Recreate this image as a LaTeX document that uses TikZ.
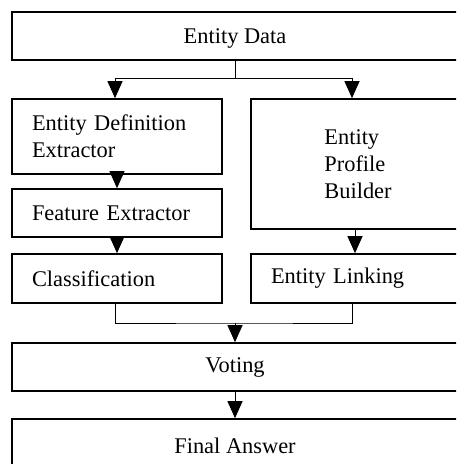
\documentclass[tikz,border=0pt]{standalone}
\usepackage{fontspec}
\setmainfont{Liberation Serif}
\usetikzlibrary{arrows.meta}

\begin{document}
\begin{tikzpicture}[x=0.5pt, y=-0.5pt,
        box/.style={draw, line width=0.8pt, rectangle, inner sep=0pt, font=\fontsize{11.2}{13.6}\selectfont},
        wide/.style={box, minimum width=223pt, minimum height=24pt},
        lbox/.style={box, minimum width=105pt, text width=85pt, align=left},
        rbox/.style={box, minimum width=107pt, text width=87pt, align=left},
        arr/.style={line width=0.5pt, -{Triangle[width=7.5pt,length=8.5pt]}}]
        \useasboundingbox (0,0) rectangle (456,464);
        \clip (0,0) rectangle (456,464);
        \node[wide, text depth=0pt] (data) at (235, 36) {Entity Data};
        \node[lbox, minimum height=37.5pt] (ede) at (117, 136.5) {Entity Definition\\Extractor};
        \node[lbox, minimum height=24pt] (fe) at (117, 213) {Feature Extractor};
        \node[lbox, minimum height=24.5pt] (cls) at (117, 278.5) {Classification};
        \node[box, minimum width=107pt, minimum height=65pt, align=left] (epb) at (358, 164) {Entity\\Profile\\Builder};
        \node[rbox, minimum height=24.5pt] (el) at (358, 278.5) {Entity Linking};
        \node[wide] (voting) at (235, 367) {Voting};
        \node[wide, minimum height=27pt] (final) at (235, 446) {Final Answer};
        % split and merge points
        \coordinate (split) at (235, 79);
        \coordinate (merge) at (235, 323);
        \draw[line width=0.5pt] (data.south) -- (split);
        \draw[arr] (split) -| ([xshift=-1pt]ede.north);
        \draw[arr] (split) -| ([xshift=-3pt]epb.north);
        \draw[arr] (ede.south) -- (fe.north);
        \draw[arr] (fe.south) -- (cls.north);
        \draw[arr] ([xshift=-1.5pt]epb.south) -- ([xshift=-1.5pt]el.north);
        \draw[line width=0.5pt] ([xshift=-1pt]cls.south) |- (merge) -| ([xshift=-3pt]el.south);
        \draw[arr] (merge) -- (voting.north);
        \draw[arr] (voting.south) -- (final.north);
    \end{tikzpicture}
\end{document}
